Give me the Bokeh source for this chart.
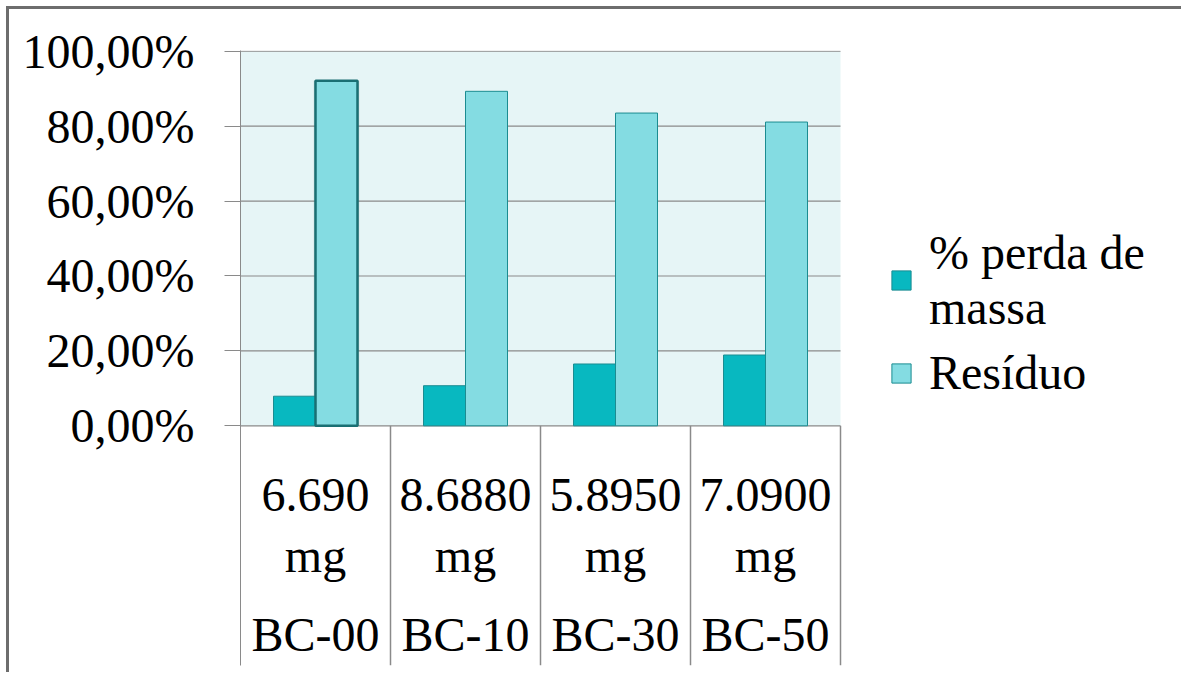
import numpy as np
from bokeh.plotting import figure
from bokeh.models import Range1d, FixedTicker, Legend, LegendItem, ColumnDataSource
from bokeh.core.properties import value
from bokeh.embed import file_html
from bokeh.resources import INLINE

groups = ["BC-00", "BC-10", "BC-30", "BC-50"]
masses = ["6.690\nmg", "8.6880\nmg", "5.8950\nmg", "7.0900\nmg"]
perda = [7.9, 10.7, 16.5, 18.9]
residuo = [92.1, 89.3, 83.5, 81.1]
yticks = [0, 20, 40, 60, 80, 100]
ytick_labels = ["0,00%", "20,00%", "40,00%", "60,00%", "80,00%", "100,00%"]

FONT = "Liberation Serif"
C_PERDA = "#08b8c0"
C_RES = "#84dce2"
C_EDGE = "#1b8c91"
C_GRID = "#8a8a8a"
C_BG = "#e6f5f6"

SHIFT = 9
W, H = 1184 - SHIFT, 675 - SHIFT
LEFT, TOP, BOTTOM = 240 - SHIFT, 50 - SHIFT, 10
Y0 = -64.0
n = len(groups)
xc = np.arange(n) + 0.5
bw = 0.28

p = figure(width=W, height=H, output_backend="svg", toolbar_location=None,
           x_range=Range1d(0, (W - LEFT) / 150.0), y_range=Range1d(Y0, 100.2),
           x_axis_location=None,
           min_border_left=LEFT, min_border_right=0, min_border_top=TOP,
           min_border_bottom=BOTTOM)
p.styles = {"border-top": "3px solid #6d6d6d", "border-left": "3px solid #6d6d6d",
            "margin-top": "6px", "margin-left": "6px"}
p.xgrid.visible = False
p.ygrid.visible = False
p.outline_line_color = None
p.background_fill_color = "white"

yax = p.yaxis[0]
yax.ticker = FixedTicker(ticks=yticks)
yax.major_label_overrides = {t: l for t, l in zip(yticks, ytick_labels)}
yax.major_tick_out = 16
yax.major_tick_in = 0
yax.minor_tick_out = 0
yax.minor_tick_in = 0
yax.axis_line_color = C_GRID
yax.major_tick_line_color = C_GRID
yax.major_label_text_font = FONT
yax.major_label_text_font_size = "48px"
yax.major_label_text_color = "black"
yax.major_label_standoff = 30

# plot background
p.quad(left=0, right=n, bottom=0, top=yticks[-1], fill_color=C_BG, line_color=None)
# grid lines
p.segment(x0=0, x1=n, y0=yticks, y1=yticks, line_color=C_GRID, line_width=1.2)
# category separators
bounds = np.arange(1, n + 1)
p.segment(x0=bounds, x1=bounds, y0=Y0, y1=0, line_color=C_GRID, line_width=1.5)

src = ColumnDataSource(dict(
    xp=xc - bw / 2, xr=xc + bw / 2, perda=perda, residuo=residuo,
    rlw=[2.5] + [1] * (n - 1),
    rlc=["#1a6f73"] + [C_EDGE] * (n - 1),
    sa=[0.25] + [0] * (n - 1),
))
# soft shadow behind the highlighted bar
p.vbar(x="xr", top="residuo", bottom=0, width=bw * 1.08, source=src,
       fill_color="#3a5a5c", fill_alpha="sa", line_color=None)
r1 = p.vbar(x="xp", top="perda", bottom=0, width=bw, source=src,
            fill_color=C_PERDA, line_color=C_EDGE, line_width=1)
r2 = p.vbar(x="xr", top="residuo", bottom=0, width=bw, source=src,
            fill_color=C_RES, line_color="rlc", line_width="rlw")

p.text(x=xc, y=0, text=masses, y_offset=42, text_align="center", text_baseline="top",
       text_font=value(FONT), text_font_size=value("48px"), text_line_height=1.15,
       text_color="black")
p.text(x=xc, y=0, text=groups, y_offset=182, text_align="center", text_baseline="top",
       text_font=value(FONT), text_font_size=value("48px"), text_color="black")

legend = Legend(items=[LegendItem(label="% perda de\nmassa", renderers=[r1], index=1),
                       LegendItem(label="Resíduo", renderers=[r2], index=1)],
                location=(649, 265), label_text_font=FONT, label_text_font_size="48px",
                label_text_color="black",
                glyph_width=24, glyph_height=24, label_standoff=16, spacing=10,
                padding=0, margin=0, background_fill_alpha=0, border_line_alpha=0,
                label_text_line_height=1.05)
p.add_layout(legend)

open("out.html", "w").write(file_html(p, INLINE))
